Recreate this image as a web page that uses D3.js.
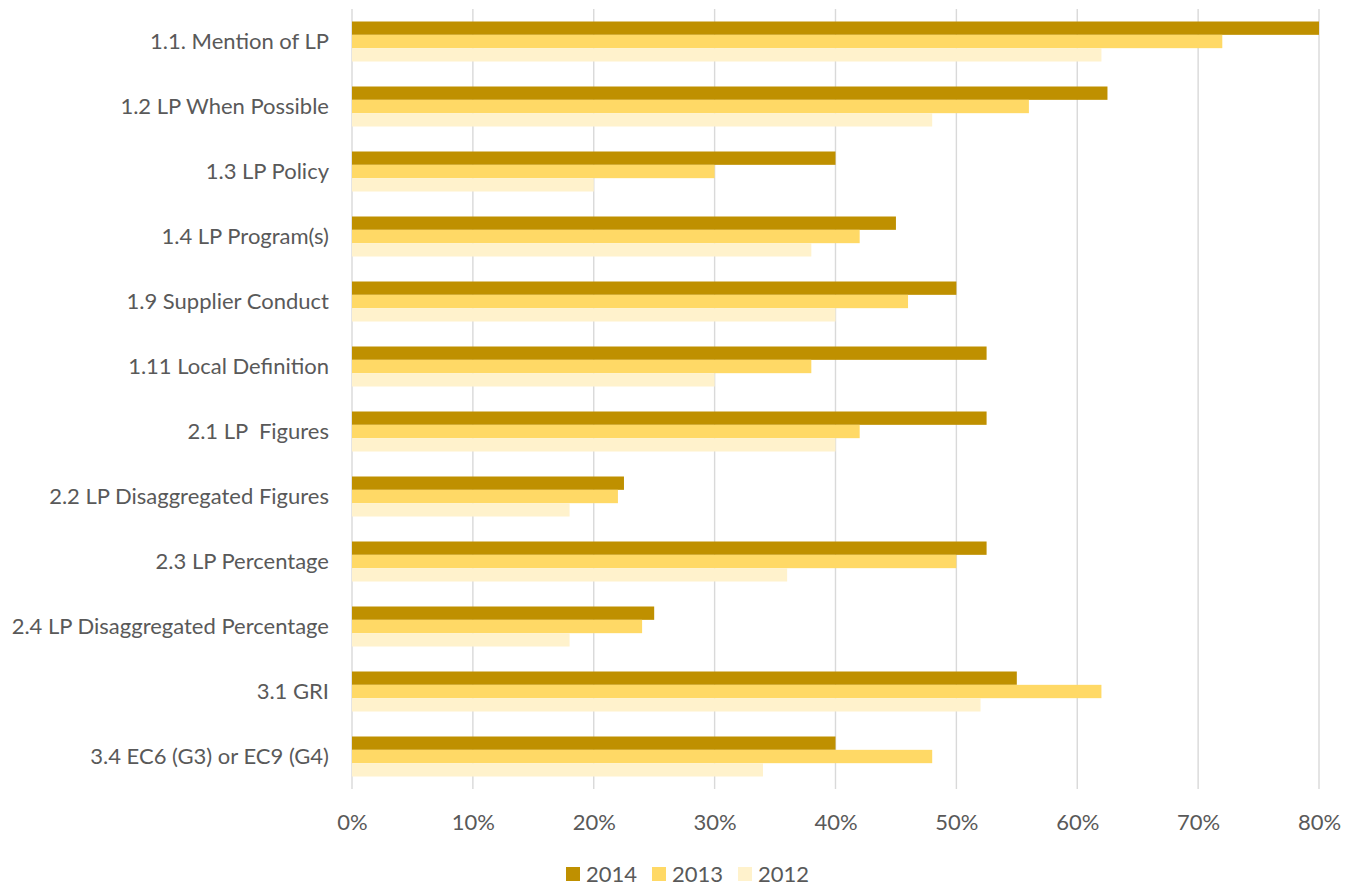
<!DOCTYPE html>
<html>
<head>
<meta charset="utf-8">
<script src="https://cdn.jsdelivr.net/npm/d3@7"></script>
<style>
  html, body { margin: 0; padding: 0; background: #ffffff; }
  svg { display: block; }
  text { font-family: Lato, "Open Sans", sans-serif; fill: #595959; white-space: pre; }
</style>
</head>
<body>
<svg id="chart" width="1353" height="886"></svg>
<script>
// Categories (top to bottom)
const categories = [
  "1.1. Mention of LP",
  "1.2 LP When Possible",
  "1.3 LP Policy",
  "1.4 LP Program(s)",
  "1.9 Supplier Conduct",
  "1.11 Local Definition",
  "2.1 LP  Figures",
  "2.2 LP Disaggregated Figures",
  "2.3 LP Percentage",
  "2.4 LP Disaggregated Percentage",
  "3.1 GRI",
  "3.4 EC6 (G3) or EC9 (G4)"
];

// Series in drawing order within each category
const seriesNames = ["2014", "2013", "2012"];

// Share of reports per indicator (fractions)
const values2014 = [0.80, 0.625, 0.40, 0.45, 0.50, 0.525, 0.525, 0.225, 0.525, 0.25, 0.55, 0.40];
const values2013 = [0.72, 0.56, 0.30, 0.42, 0.46, 0.38, 0.42, 0.22, 0.50, 0.24, 0.62, 0.48];
const values2012 = [0.62, 0.48, 0.20, 0.38, 0.40, 0.30, 0.40, 0.18, 0.36, 0.18, 0.52, 0.34];

const xTicks = [0, 0.1, 0.2, 0.3, 0.4, 0.5, 0.6, 0.7, 0.8];

const seriesValues = { "2014": values2014, "2013": values2013, "2012": values2012 };
const colors = { "2014": "#BF9000", "2013": "#FFD966", "2012": "#FFF2CC" };

const FONT_SIZE = 22;

const svg = d3.select("#chart");
const plot = { left: 352, right: 1319, top: 9, bottom: 789 };

const x = d3.scaleLinear().domain([0, 0.8]).range([plot.left, plot.right]);
const y0 = d3.scaleBand().domain(categories).range([plot.top, plot.bottom]).padding(0);
const y1 = d3.scaleBand().domain(seriesNames).range([0, y0.bandwidth()])
  .paddingInner(0).paddingOuter(0.9375);

// Vertical gridlines
svg.append("g")
  .selectAll("line")
  .data(xTicks)
  .join("line")
  .attr("x1", d => x(d)).attr("x2", d => x(d))
  .attr("y1", plot.top).attr("y2", plot.bottom)
  .attr("stroke", "#d9d9d9")
  .attr("stroke-width", 1.4);

// Bars
const rows = categories.map((c, i) => ({
  cat: c,
  bars: seriesNames.map(s => ({ series: s, value: seriesValues[s][i] }))
}));

svg.append("g")
  .selectAll("g")
  .data(rows)
  .join("g")
  .attr("transform", d => `translate(0,${y0(d.cat)})`)
  .selectAll("rect")
  .data(d => d.bars)
  .join("rect")
  .attr("x", x(0))
  .attr("y", d => y1(d.series))
  .attr("width", d => x(d.value) - x(0))
  .attr("height", y1.bandwidth())
  .attr("fill", d => colors[d.series]);

// Category axis labels
const yAxis = d3.axisLeft(y0).tickSize(0).tickPadding(23);
const gy = svg.append("g").attr("transform", `translate(${plot.left},0)`).call(yAxis);
gy.select(".domain").remove();
gy.selectAll("text")
  .attr("font-size", FONT_SIZE)
  .style("font-family", "Lato, 'Open Sans', sans-serif")
  .style("white-space", "pre")
  .attr("fill", "#595959");

// Percentage axis labels
const xAxis = d3.axisBottom(x).tickValues(xTicks).tickFormat(d3.format(".0%")).tickSize(0).tickPadding(25);
const gx = svg.append("g").attr("transform", `translate(0,${plot.bottom})`).call(xAxis);
gx.select(".domain").remove();
gx.selectAll("text")
  .attr("font-size", FONT_SIZE)
  .style("font-family", "Lato, 'Open Sans', sans-serif")
  .attr("fill", "#595959");

// Legend
const legendItems = [
  { name: "2014", x: 566 },
  { name: "2013", x: 652 },
  { name: "2012", x: 738 }
];
const lg = svg.append("g").selectAll("g").data(legendItems).join("g")
  .attr("transform", d => `translate(${d.x},867)`);
lg.append("rect").attr("width", 14).attr("height", 14).attr("fill", d => colors[d.name]);
lg.append("text")
  .attr("x", 20).attr("y", 15)
  .attr("font-size", FONT_SIZE)
  .text(d => d.name);
</script>
</body>
</html>
